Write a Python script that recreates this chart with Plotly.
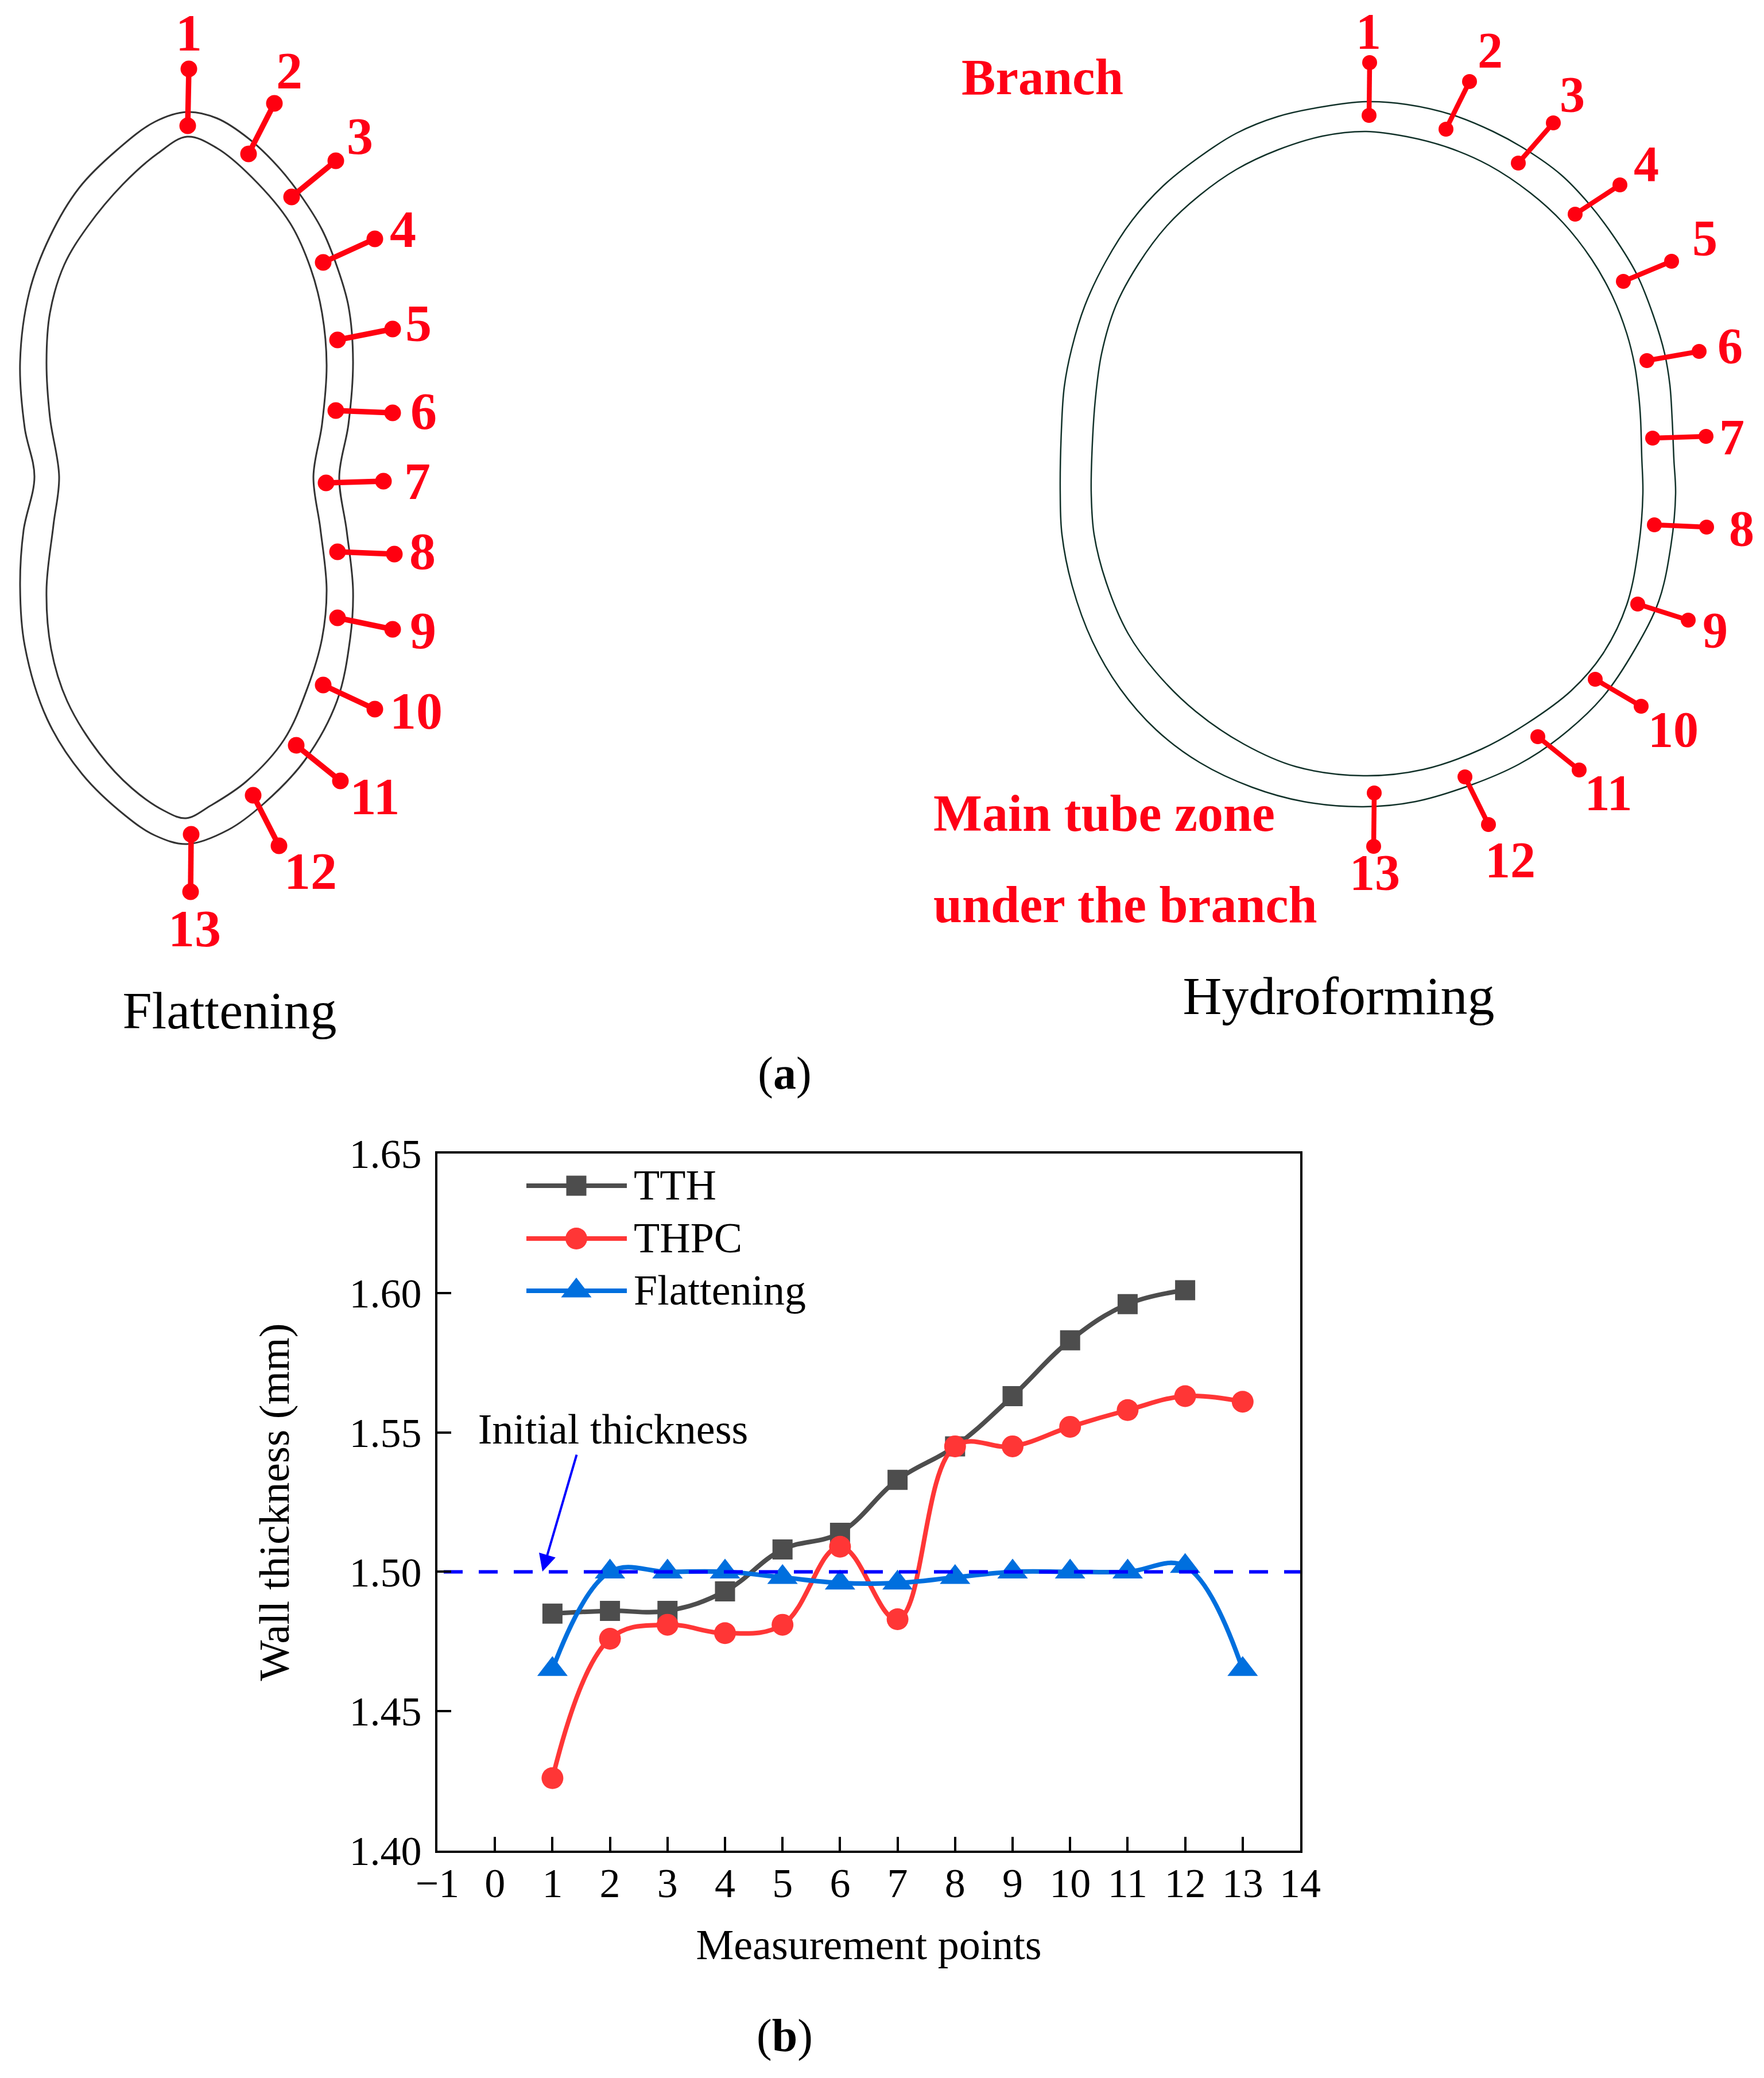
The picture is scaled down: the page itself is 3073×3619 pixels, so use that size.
import plotly.graph_objects as go

# chart values
points = [1, 2, 3, 4, 5, 6, 7, 8, 9, 10, 11, 12, 13]
tth = [1.485, 1.486, 1.486, 1.493, 1.508, 1.514, 1.533, 1.545, 1.563, 1.583, 1.596, 1.601]
thpc = [1.426, 1.476, 1.481, 1.478, 1.481, 1.509, 1.483, 1.545, 1.545, 1.552, 1.558, 1.563, 1.561]
flattening = [1.465, 1.500, 1.500, 1.500, 1.498, 1.496, 1.496, 1.498, 1.500, 1.500, 1.500, 1.502, 1.465]
initial_x = [-0.89, 14.04]
initial_y = [1.5, 1.5]
x_ticks = list(range(-1, 15))
y_ticks = [1.40, 1.45, 1.50, 1.55, 1.60, 1.65]

# panel (a) outlines, traced in picture pixels
flat_outer_x = [326, 378, 434, 485, 525, 561, 587, 607, 615, 607, 591, 604, 615, 610, 587, 531, 459, 398, 326,
                270, 219, 143, 82, 43, 35, 41, 60, 43, 35, 51, 87, 138, 204, 270, 326]
flat_outer_y = [195, 206, 242, 291, 342, 400, 464, 533, 630, 739, 830, 925, 1027, 1112, 1221, 1324, 1400, 1445, 1470,
                1455, 1421, 1348, 1252, 1124, 1021, 924, 830, 745, 630, 509, 412, 327, 261, 212, 195]
flat_inner_x = [326, 378, 439, 505, 541, 561, 569, 561, 546, 558, 569, 561, 536, 495, 429, 367, 324,
                286, 230, 173, 117, 89, 81, 93, 103, 87, 81, 87, 112, 153, 214, 275, 326]
flat_inner_y = [238, 258, 309, 388, 467, 545, 636, 739, 830, 920, 1027, 1112, 1197, 1288, 1361, 1403, 1425,
                1412, 1373, 1312, 1221, 1130, 1027, 915, 830, 727, 630, 545, 461, 394, 321, 267, 238]
hydro_outer_x = [2380, 2451, 2530, 2601, 2659, 2719, 2769, 2812, 2851, 2880, 2900, 2909, 2913, 2916, 2919, 2911, 2890,
                 2848, 2792, 2716, 2646, 2563, 2466, 2375, 2271, 2181, 2090, 2014, 1951, 1903, 1868, 1850, 1847,
                 1849, 1854, 1867, 1890, 1926, 1972, 2026, 2090, 2154, 2226, 2304, 2380]
hydro_outer_y = [177, 182, 200, 229, 261, 304, 356, 413, 477, 549, 616, 670, 730, 800, 860, 949, 1046,
                 1131, 1214, 1285, 1331, 1367, 1396, 1405, 1396, 1371, 1328, 1271, 1199, 1117, 1021, 931, 860,
                 750, 674, 607, 532, 456, 384, 324, 273, 232, 203, 186, 177]
hydro_inner_x = [2380, 2451, 2523, 2594, 2666, 2723, 2773, 2809, 2834, 2848, 2855, 2858, 2860, 2862, 2855, 2834,
                 2792, 2737, 2660, 2580, 2480, 2375, 2257, 2167, 2083, 2014, 1965, 1927, 1906, 1901,
                 1902, 1908, 1919, 1944, 1983, 2033, 2090, 2154, 2226, 2304, 2380]
hydro_inner_y = [229, 238, 257, 288, 336, 388, 452, 516, 581, 638, 691, 730, 795, 860, 949, 1053,
                 1139, 1203, 1260, 1305, 1340, 1351, 1335, 1296, 1239, 1171, 1103, 1014, 931, 860,
                 795, 697, 616, 532, 460, 393, 340, 295, 261, 237, 229]

# measuring probes: (outer end) -> (inner end), and the number beside each
numbers = [str(n) for n in points]
flat_tip_x = [329, 478, 585, 653, 684, 684, 668, 687, 684, 653, 593, 486, 332]
flat_tip_y = [120, 180, 280, 416, 573, 719, 838, 965, 1096, 1235, 1360, 1473, 1553]
flat_base_x = [327, 433, 508, 563, 588, 585, 568, 588, 588, 563, 516, 441, 333]
flat_base_y = [219, 268, 343, 457, 592, 715, 841, 961, 1076, 1193, 1298, 1385, 1453]
flat_num_x = [329, 504, 627, 702, 729, 738, 727, 736, 737, 725, 653, 541, 339]
flat_num_y = [58, 124, 238, 400, 564, 717, 839, 961, 1099, 1239, 1388, 1518, 1618]
hydro_tip_x = [2386, 2560, 2706, 2822, 2912, 2960, 2972, 2973, 2941, 2859, 2751, 2593, 2393]
hydro_tip_y = [109, 142, 214, 322, 455, 612, 760, 918, 1080, 1230, 1341, 1436, 1474]
hydro_base_x = [2385, 2519, 2645, 2744, 2828, 2869, 2879, 2882, 2853, 2779, 2679, 2552, 2394]
hydro_base_y = [201, 225, 284, 373, 490, 628, 763, 914, 1052, 1183, 1283, 1353, 1381]
hydro_num_x = [2384, 2596, 2739, 2868, 2970, 3014, 3017, 3034, 2988, 2915, 2802, 2631, 2395]
hydro_num_y = [55, 88, 165, 286, 415, 603, 762, 921, 1098, 1271, 1381, 1498, 1520]

# legend, in picture pixels
legend_names = ["TTH", "THPC", "Flattening"]
legend_colors = ["#4d4d4d", "#ff3636", "#006fde"]
legend_symbols = ["square", "circle", "triangle-up"]
legend_sizes = [35, 38, 46]
legend_line_x = [917, 1004, 1092]
legend_y = [2065, 2157, 2248]
legend_text_x = 1104

W, H = 3073, 3619
BODY = 8  # the page keeps its default 8 px body margin
SERIF = "Liberation Serif"
RED = "#ff0016"

fig = go.Figure()


def probe_trace(tip_x, tip_y, base_x, base_y, width, size):
    xs, ys = [], []
    for a, b, c, d in zip(tip_x, tip_y, base_x, base_y):
        xs += [a, c, None]
        ys += [b, d, None]
    fig.add_trace(go.Scatter(x=xs, y=ys, mode="lines+markers", xaxis="x2", yaxis="y2",
                             line=dict(color="#ff0010", width=width),
                             marker=dict(color="#ff0010", size=size)))


def text_trace(x, y, text, size, color="black", bold=False, pos="middle center", dy=7):
    # dy: plotly centres the line box, not the glyphs
    fig.add_trace(go.Scatter(x=x, y=[v + dy for v in y], text=text, mode="text", xaxis="x2", yaxis="y2",
                             textposition=pos, cliponaxis=False,
                             textfont=dict(family=SERIF, size=size, color=color,
                                           weight="bold" if bold else "normal")))


# panel (b) series
for ys, i in ((tth, 0), (thpc, 1), (flattening, 2)):
    fig.add_trace(go.Scatter(x=points[:len(ys)], y=ys, mode="lines+markers", name=legend_names[i],
                             line=dict(color=legend_colors[i], width=8, shape="spline", smoothing=1.1),
                             marker=dict(color=legend_colors[i], symbol=legend_symbols[i], size=legend_sizes[i])))
fig.add_trace(go.Scatter(x=initial_x, y=initial_y, mode="lines", cliponaxis=False,
                         line=dict(color="#0000ff", width=6, dash="33px,28px")))

# panel (a) outlines
for xs, ys, c, w in ((flat_outer_x, flat_outer_y, "#333333", 3), (flat_inner_x, flat_inner_y, "#333333", 3),
                     (hydro_outer_x, hydro_outer_y, "#12322a", 2.5), (hydro_inner_x, hydro_inner_y, "#12322a", 2.5)):
    fig.add_trace(go.Scatter(x=xs, y=ys, mode="lines", xaxis="x2", yaxis="y2",
                             line=dict(color=c, width=w, shape="spline", smoothing=1)))

probe_trace(flat_tip_x, flat_tip_y, flat_base_x, flat_base_y, 9.5, 29)
probe_trace(hydro_tip_x, hydro_tip_y, hydro_base_x, hydro_base_y, 8.5, 26)
text_trace(flat_num_x, flat_num_y, numbers, 92, RED, True)
text_trace(hydro_num_x, hydro_num_y, numbers, 88, RED, True)
text_trace([1816], [135], ["Branch"], 89, RED, True)
text_trace([1626, 1626], [1417, 1576], ["Main tube zone", "under the branch"], 90, RED, True, "middle right")
text_trace([400], [1761], ["Flattening"], 92)
text_trace([2332], [1735], ["Hydroforming"], 94)
text_trace([1367, 1367], [1873, 3549], ["(<b>a</b>)", "(<b>b</b>)"], 80, dy=3)
text_trace([1068], [2492], ["Initial thickness"], 74, dy=3)

# hand made legend: plotly caps legend markers at 16 px
for i, name in enumerate(legend_names):
    fig.add_trace(go.Scatter(x=[legend_line_x[0], legend_line_x[2]], y=[legend_y[i], legend_y[i]], mode="lines",
                             xaxis="x2", yaxis="y2", line=dict(color=legend_colors[i], width=8)))
    fig.add_trace(go.Scatter(x=[legend_line_x[1]], y=[legend_y[i]], mode="markers", xaxis="x2", yaxis="y2",
                             marker=dict(color=legend_colors[i], symbol=legend_symbols[i], size=legend_sizes[i])))
    text_trace([legend_text_x], [legend_y[i]], [name], 74, pos="middle right", dy=5)

fig.add_annotation(x=945, y=2737, ax=1005, ay=2532, xref="x2", yref="y2", axref="x2", ayref="y2", text="",
                   showarrow=True, arrowhead=2, arrowsize=1.5, arrowwidth=4, arrowcolor="#0000ff")

axis_font = dict(family=SERIF, size=72, color="black")
fig.update_layout(width=W, height=H, showlegend=False, plot_bgcolor="rgba(0,0,0,0)", paper_bgcolor="white",
                  margin=dict(l=0, r=0, t=0, b=0, pad=0, autoexpand=False), font=dict(family=SERIF),
                  xaxis=dict(domain=[(762 - BODY) / W, (2265 - BODY) / W], range=[-1, 14], tickvals=x_ticks,
                             ticks="inside", ticklen=24, tickwidth=4, tickcolor="black", showline=True,
                             linecolor="black", linewidth=4, mirror=True, showgrid=False, zeroline=False,
                             tickfont=axis_font, ticklabelstandoff=-9,
                             title=dict(text="Measurement points", font=dict(family=SERIF, size=74, color="black"),
                                        standoff=42)),
                  yaxis=dict(domain=[1 - (3223 - BODY) / H, 1 - (2009 - BODY) / H], range=[1.40, 1.65],
                             tickvals=y_ticks, tickformat=".2f", ticks="inside", ticklen=24, tickwidth=4,
                             tickcolor="black", showline=True, linecolor="black", linewidth=4, mirror=True,
                             showgrid=False, zeroline=False, tickfont=axis_font, ticklabelstandoff=9,
                             title=dict(text="Wall thickness (mm)", font=dict(family=SERIF, size=75, color="black"),
                                        standoff=81)),
                  xaxis2=dict(domain=[0, 1], range=[BODY, W + BODY], visible=False, anchor="y2"),
                  yaxis2=dict(domain=[0, 1], range=[H + BODY, BODY], visible=False, anchor="x2"))
fig.write_html("out.html")
